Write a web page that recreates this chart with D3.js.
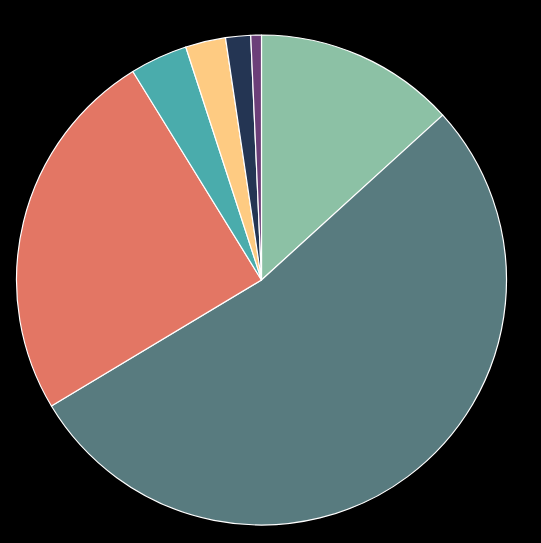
<!DOCTYPE html>
<html>
<head>
<meta charset="utf-8">
<script src="https://cdn.jsdelivr.net/npm/d3@7"></script>
<style>
html, body { margin: 0; padding: 0; background: #000; }
svg { display: block; }
</style>
</head>
<body>
<svg id="chart" width="541" height="543"></svg>
<script>
const categories = ["A", "B", "C", "D", "E", "F", "G"];
const values = [13.25, 53.15, 24.8, 3.8, 2.65, 1.65, 0.7];
const colors = ["#8cc1a5", "#587b7f", "#e37664", "#4aacac", "#fecb82", "#243553", "#6c3f79"];

const svg = d3.select("#chart");
const cx = 261.5, cy = 280, r = 245;
const g = svg.append("g").attr("transform", `translate(${cx},${cy})`);

const data = categories.map((c, i) => ({ cat: c, value: values[i] }));
const color = d3.scaleOrdinal().domain(categories).range(colors);
const pie = d3.pie().sort(null).value(d => d.value);
const arc = d3.arc().innerRadius(0).outerRadius(r);

g.selectAll("path")
  .data(pie(data))
  .join("path")
  .attr("d", arc)
  .attr("fill", d => color(d.data.cat))
  .attr("stroke", "#ffffff")
  .attr("stroke-width", 1.2)
  .attr("stroke-linejoin", "round");
</script>
</body>
</html>
